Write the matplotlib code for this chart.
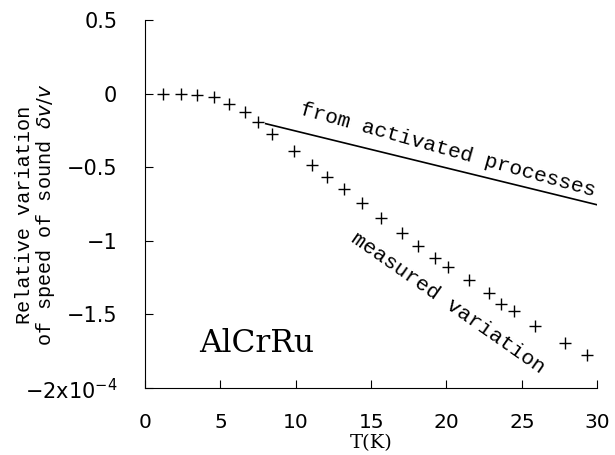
import matplotlib
matplotlib.use("Agg")
import matplotlib.pyplot as plt

# measured data (T in K, relative variation in units of 1e-4)
T_meas = [1.2, 2.35, 3.45, 4.55, 5.55, 6.6, 7.5, 8.45, 9.9, 11.1, 12.1, 13.2, 14.4,
          15.65, 17.05, 18.1, 19.25, 20.1, 21.5, 22.8, 23.65, 24.5, 25.9, 27.85, 29.35]
dv_meas = [0.0, 0.0, -0.007, -0.023, -0.068, -0.127, -0.195, -0.274, -0.391, -0.482,
           -0.566, -0.647, -0.742, -0.844, -0.946, -1.032, -1.115, -1.179, -1.267,
           -1.357, -1.432, -1.477, -1.575, -1.692, -1.778]
# activated processes line
T_act = [8.0, 30.0]
dv_act = [-0.204, -0.755]

xticks = [0, 5, 10, 15, 20, 25, 30]
yticks = [0.5, 0, -0.5, -1, -1.5, -2]
ytick_labels = ["0.5", "0", "\u22120.5", "\u22121", "\u22121.5", "\u22122x10$^{-4}$"]

fig = plt.figure(figsize=(6.15, 4.55), dpi=100)
ax = fig.add_axes([0.236, 0.147, 0.735, 0.809])

ax.plot(T_meas, dv_meas, linestyle="none", marker="+", color="black",
        markersize=8.5, markeredgewidth=1.0)
ax.plot(T_act, dv_act, color="black", linewidth=1.2)

ax.set_xlim(0, 30)
ax.set_ylim(-2, 0.5)
ax.spines["top"].set_visible(False)
ax.spines["right"].set_visible(False)
ax.set_xticks(xticks)
ax.set_xticklabels([str(t) for t in xticks], fontsize=14.5)
ax.set_yticks(yticks)
ax.set_yticklabels(ytick_labels, fontsize=15)
ax.tick_params(axis="x", direction="in", length=6, pad=18)
ax.tick_params(axis="y", direction="in", length=6, pad=20)

ax.set_xlabel("T(K)", fontsize=14, family="DejaVu Serif")
ax.xaxis.set_label_coords(0.5, -0.125)
ax.set_ylabel("Relative variation\nof speed of sound $\\delta v/v$", fontsize=14.5,
              family="Liberation Mono", linespacing=1.0)
ax.yaxis.set_label_coords(-0.195, 0.47)

ax.text(20.1, -0.38, "from activated processes", rotation=-15.6, fontsize=15.3,
        family="Liberation Mono", ha="center", va="center", rotation_mode="anchor")
ax.text(20.1, -1.42, "measured variation", rotation=-35, fontsize=15.4,
        family="Liberation Mono", ha="center", va="center", rotation_mode="anchor")
ax.text(7.4, -1.70, "AlCrRu", fontsize=22.5, family="DejaVu Serif",
        ha="center", va="center")

fig.savefig("out.png", dpi=100)
